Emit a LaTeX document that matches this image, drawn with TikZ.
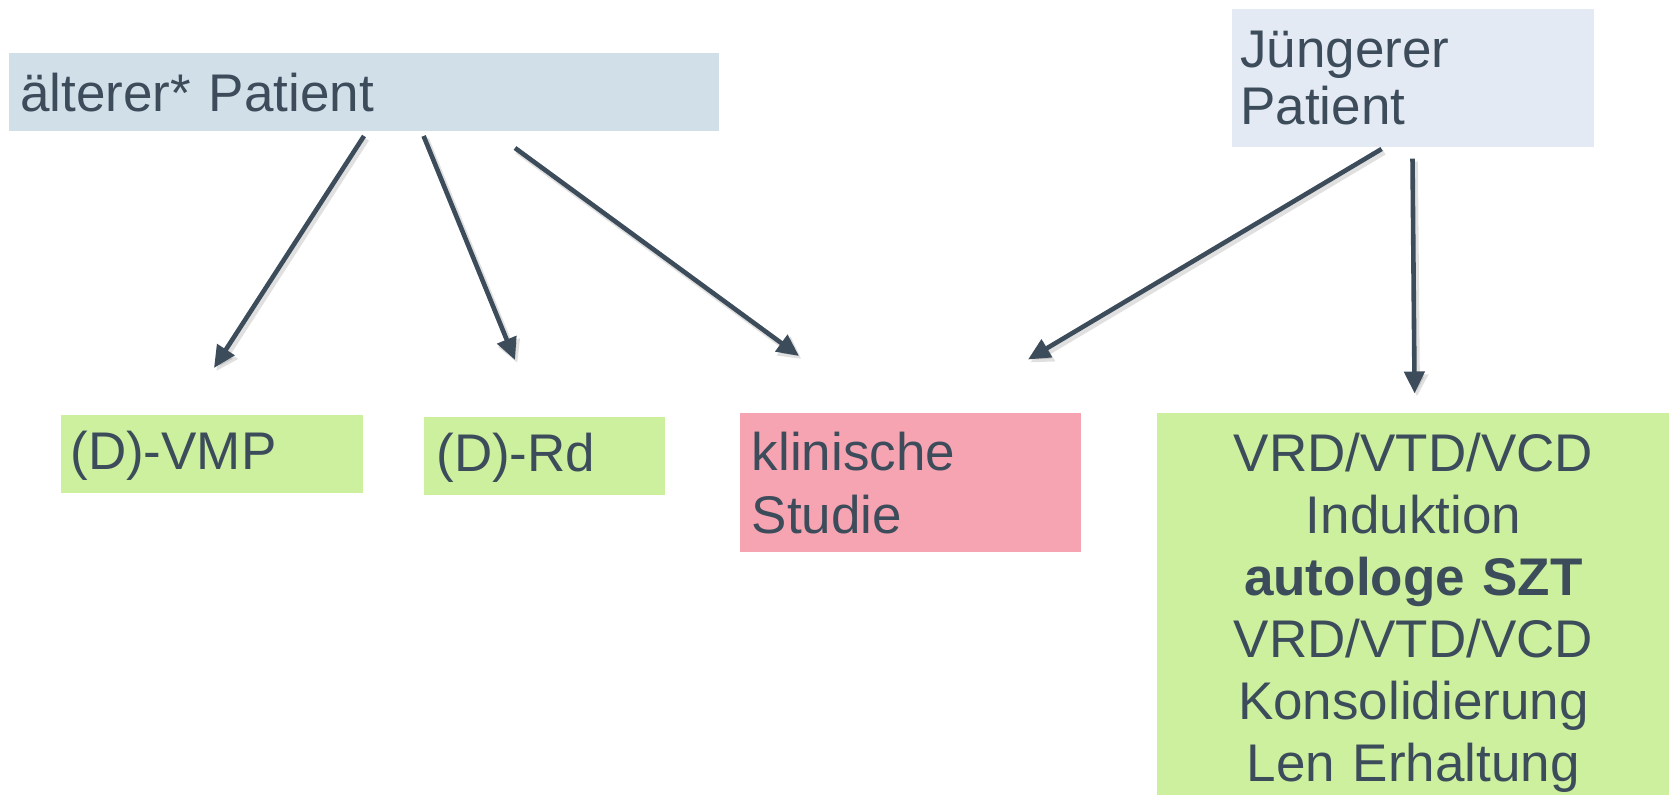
\documentclass[tikz,border=0pt]{standalone}
\usepackage{fontspec}
\setmainfont{Liberation Sans}
\usetikzlibrary{arrows.meta}

\definecolor{inktone}{HTML}{3D4C5A}
\definecolor{oldbg}{HTML}{D1DFE8}
\definecolor{youngbg}{HTML}{E3EAF3}
\definecolor{therapybg}{HTML}{CDF09F}
\definecolor{studybg}{HTML}{F6A4B2}

\tikzset{
  box/.style={anchor=north west, inner ysep=0pt, align=left, text=inktone,
    font=\fontsize{26.5}{31}\selectfont},
  conn/.style={draw=inktone, line width=2.3pt, -{Triangle[length=11pt,width=10pt]}},
  connshadow/.style={draw=black, opacity=0.12, line width=3pt,
    -{Triangle[length=11pt,width=11pt]}, transform canvas={shift={(1.2pt,-1.5pt)}}},
}

\begin{document}
\begin{tikzpicture}[x=0.5pt,y=-0.5pt]
  \useasboundingbox (0,0) rectangle (1669,795);
  \clip (0,0) rectangle (1669,795);

  % patient groups
  \node[box, fill=oldbg, inner xsep=5.75pt, text width=343.5pt, minimum height=39pt]
    (old) at (8.5,53) {älterer* Patient};
  \node[box, fill=youngbg, inner xsep=4.25pt, text width=172.5pt, minimum height=69.25pt,
    font=\fontsize{26.5}{28.75}\selectfont]
    (young) at (1231.5,8.5) {Jüngerer\\Patient};

  % therapy options
  \node[box, fill=therapybg, inner xsep=4.65pt, text width=141.7pt, minimum height=39pt,
    text depth=4pt]
    (vmp) at (60.7,415) {(D)-VMP};
  \node[box, fill=therapybg, inner xsep=6.2pt, text width=108.3pt, minimum height=39pt,
    text depth=4pt]
    (rd) at (423.6,417) {(D)-Rd};
  \node[box, fill=studybg, inner xsep=5.75pt, text width=159pt, minimum height=69.5pt,
    font=\fontsize{26.5}{31.5}\selectfont]
    (study) at (740,413) {klinische\\Studie};
  \node[box, fill=therapybg, inner xsep=0pt, text width=256pt, minimum height=199pt,
    align=center]
    (asct) at (1157,413) {VRD/VTD/VCD\\Induktion\\\textbf{autologe SZT}\\VRD/VTD/VCD\\Konsolidierung\\Len Erhaltung};

  % connector end points
  \coordinate (o1) at (364,136);     \coordinate (t1) at (214,368);
  \coordinate (o2) at (423.6,136);   \coordinate (t2) at (515,360);
  \coordinate (o3) at (515,148);     \coordinate (t3) at (799,356);
  \coordinate (y1) at (1381.6,149);  \coordinate (t4) at (1028,359.5);
  \coordinate (y2) at (1412.5,158.6); \coordinate (t5) at (1414.6,393.5);

  % soft shadows under the connectors
  \foreach \a/\b in {o1/t1, o2/t2, o3/t3, y1/t4, y2/t5}
    \draw[connshadow] (\a) -- (\b);

  % connectors
  \draw[conn] (o1) -- (t1);
  \draw[conn] (o2) -- (t2);
  \draw[conn] (o3) -- (t3);
  \draw[conn] (y1) -- (t4);
  \draw[conn] (y2) -- (t5);
\end{tikzpicture}
\end{document}
